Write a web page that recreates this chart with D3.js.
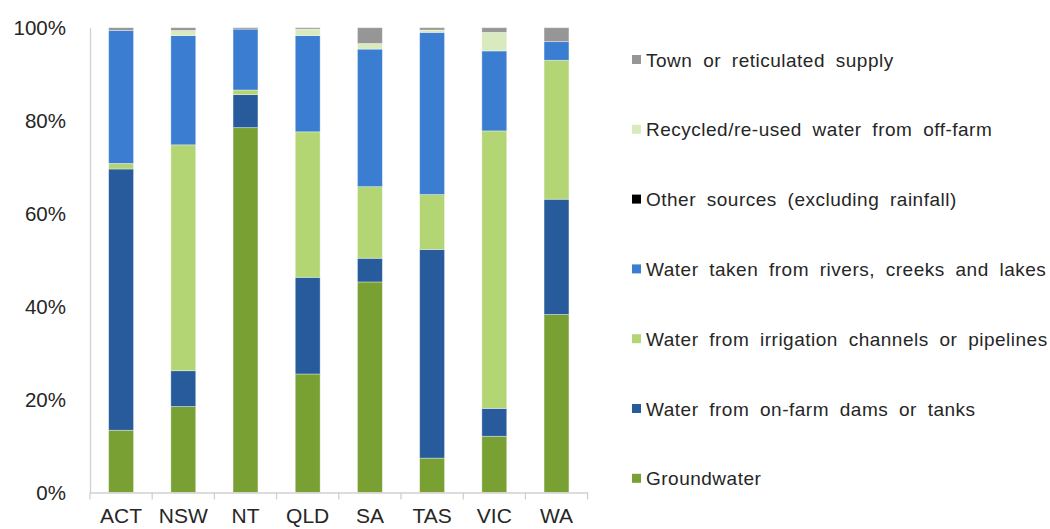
<!DOCTYPE html>
<html>
<head>
<meta charset="utf-8">
<script src="https://cdn.jsdelivr.net/npm/d3@7"></script>
<style>
  body { margin: 0; background: #fff; }
  svg { display: block; font-family: "Liberation Sans", Arial, sans-serif; }
</style>
</head>
<body>
<svg id="chart" width="1050" height="529"></svg>
<script>
// ---- data ----
const categories = ["ACT", "NSW", "NT", "QLD", "SA", "TAS", "VIC", "WA"];
const groundwater = [13.4, 18.5, 78.5, 25.5, 45.3, 7.4, 12.1, 38.3];
const onFarmDams  = [56.2, 7.7, 7.1, 20.8, 5.1, 44.9, 6.0, 24.8];
const irrigation  = [1.2, 48.6, 1.0, 31.3, 15.4, 11.8, 59.7, 29.9];
const rivers      = [28.6, 23.5, 13.1, 20.7, 29.6, 34.9, 17.2, 4.0];
const otherSources = [0, 0, 0, 0, 0, 0, 0, 0];
const recycled    = [0, 1.1, 0, 1.4, 1.2, 0.5, 4.0, 0];
const town        = [0.6, 0.6, 0.3, 0.3, 3.4, 0.5, 1.0, 3.0];
const seriesNames = [
  "Groundwater",
  "Water from on-farm dams or tanks",
  "Water from irrigation channels or pipelines",
  "Water taken from rivers, creeks and lakes",
  "Other sources (excluding rainfall)",
  "Recycled/re-used water from off-farm",
  "Town or reticulated supply"
];
const yTicks = [0, 20, 40, 60, 80, 100];

// ---- styles ----
const seriesValues = [groundwater, onFarmDams, irrigation, rivers, otherSources, recycled, town];
const colors = ["#78a032", "#275b9b", "#b3d574", "#3a7dd1", "#000000", "#d9eabd", "#969696"];

const rows = categories.map((c, i) => {
  const r = { cat: c };
  seriesNames.forEach((s, j) => r[s] = seriesValues[j][i]);
  return r;
});
const stacked = d3.stack().keys(seriesNames)(rows);

const svg = d3.select("#chart");
const plotLeft = 90, plotRight = 587.6, plotTop = 27.7, plotBottom = 492.5;

const x = d3.scaleBand().domain(categories).range([plotLeft, plotRight]).paddingInner(0.6).paddingOuter(0.3);
const y = d3.scaleLinear().domain([0, 100]).range([plotBottom, plotTop]);

// bars
svg.append("g").selectAll("g")
  .data(stacked)
  .join("g")
  .attr("fill", (d, i) => colors[i])
  .selectAll("rect")
  .data(d => d)
  .join("rect")
  .attr("x", d => x(d.data.cat))
  .attr("width", x.bandwidth())
  .attr("y", d => y(d[1]))
  .attr("height", d => Math.max(0, y(d[0]) - y(d[1])))
  .attr("stroke", "rgba(255,255,255,0.45)")
  .attr("stroke-width", 0.8);

// y axis
const yAxis = d3.axisLeft(y).tickValues(yTicks).tickFormat(d => d + "%").tickSize(0).tickPadding(24);
const gy = svg.append("g").attr("transform", `translate(${plotLeft},0)`).call(yAxis);
gy.select(".domain").attr("stroke", "#d0d0d0").attr("stroke-width", 1.3);
gy.selectAll("text").attr("font-size", 20.5).attr("fill", "#262626")
  .attr("font-family", "'Liberation Sans', Arial, sans-serif");

// x axis
const xAxis = d3.axisBottom(x).tickSize(0).tickPadding(16);
const gx = svg.append("g").attr("transform", `translate(0,${plotBottom})`).call(xAxis);
gx.select(".domain").attr("stroke", "#d0d0d0").attr("stroke-width", 1.3);
gx.selectAll("text").attr("font-size", 21).attr("fill", "#262626")
  .attr("font-family", "'Liberation Sans', Arial, sans-serif");
const step = x.step();
const boundaries = categories.map(c => x(c) - step * x.paddingInner() / 2).concat([plotRight]);
gx.selectAll("line.sep").data(boundaries).join("line")
  .attr("class", "sep")
  .attr("x1", d => d).attr("x2", d => d)
  .attr("y1", 0).attr("y2", 7)
  .attr("stroke", "#d0d0d0").attr("stroke-width", 1.3);

// legend (reverse order)
const legendItems = seriesNames.map((s, i) => ({ name: s, color: colors[i] })).reverse();
const lg = svg.append("g");
const lgItem = lg.selectAll("g").data(legendItems).join("g")
  .attr("transform", (d, i) => `translate(632, ${60 + i * 69.8})`);
lgItem.append("rect").attr("x", 0).attr("y", -5).attr("width", 9).attr("height", 9)
  .attr("fill", d => d.color);
lgItem.append("text").attr("x", 14).attr("y", 0).attr("dy", "0.35em")
  .attr("font-size", 19).attr("fill", "#262626")
  .attr("letter-spacing", 0.5)
  .attr("word-spacing", 5)
  .text(d => d.name);
</script>
</body>
</html>
